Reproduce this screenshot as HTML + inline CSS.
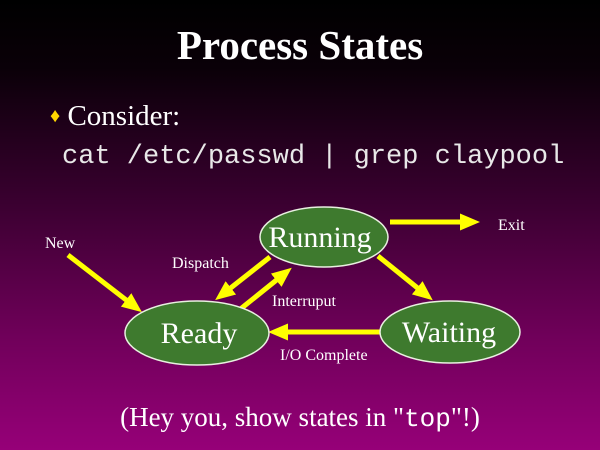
<!DOCTYPE html>
<html><head><style>
body{margin:0;width:600px;height:450px;overflow:hidden;background:linear-gradient(#000 0%,#0a0008 15%,#3a0030 45%,#70005a 75%,#960078 100%);font-family:"Liberation Serif",serif;color:#fff;position:relative}
.t{position:absolute;white-space:nowrap}
</style></head><body>
<div class="t" style="left:0;width:600px;top:21px;text-align:center;font-size:41px;font-weight:bold">Process States</div>
<div class="t" style="left:50px;top:100px;font-size:29px"><span style="color:#ffd700;font-size:20px;position:relative;top:-3px">♦</span> Consider:</div>
<div class="t" style="left:62px;top:142px;font-family:'Liberation Mono',monospace;font-size:27px;color:#e8e8e8">cat /etc/passwd | grep claypool</div>
<svg width="600" height="450" style="position:absolute;left:0;top:0" font-family="Liberation Serif,serif" fill="#fff">
<defs><marker id="a" markerWidth="4" markerHeight="4" refX="2" refY="2" orient="auto" markerUnits="strokeWidth"><path d="M0,0.3 L4,2 L0,3.7z" fill="#ffff00"/></marker></defs>
<g stroke="#ffff00" stroke-width="5" fill="none" marker-end="url(#a)">
<line x1="68" y1="255" x2="134" y2="306"/>
<line x1="270" y1="257" x2="223" y2="294"/>
<line x1="238" y1="311" x2="284" y2="274"/>
<line x1="378" y1="256" x2="425" y2="294"/>
<line x1="380" y1="332" x2="278" y2="332"/>
<line x1="390" y1="222" x2="470" y2="222"/>
</g>
<g fill="#3e7a2e" stroke="#e8f0e0" stroke-width="1.5">
<ellipse cx="324" cy="237" rx="64" ry="30"/>
<ellipse cx="197" cy="333" rx="72" ry="32"/>
<ellipse cx="450" cy="332" rx="70" ry="31"/>
</g>
<g font-size="30" text-anchor="middle">
<text x="320" y="247">Running</text>
<text x="199" y="343">Ready</text>
<text x="449" y="342">Waiting</text>
</g>
<g font-size="16">
<text x="45" y="248">New</text>
<text x="172" y="268">Dispatch</text>
<text x="272" y="306">Interruput</text>
<text x="280" y="360">I/O Complete</text>
<text x="498" y="230">Exit</text>
</g>
</svg>
<div class="t" style="left:0;width:600px;top:402px;text-align:center;font-size:27px">(Hey you, show states in "<span style="font-family:'Liberation Mono',monospace;font-size:26px">top</span>"!)</div>
</body></html>
